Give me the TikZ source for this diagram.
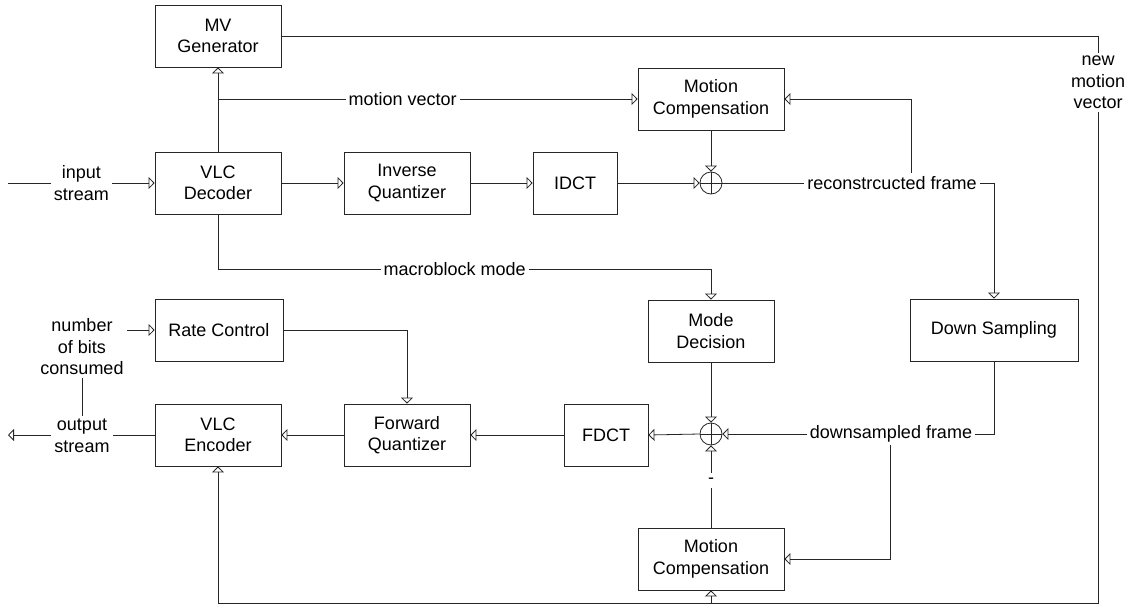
\documentclass[tikz,border=0pt]{standalone}
\usepackage{fontspec}
\setmainfont{Liberation Sans}
\usetikzlibrary{arrows.meta}
\newcommand\dfont{\fontsize{18}{21.5}\selectfont}
\begin{document}
\begin{tikzpicture}[x=1pt,y=-1pt,
  blk/.style={draw=black!85, line width=0.8pt, fill=white, minimum height=62pt, inner sep=0pt, align=center, font=\dfont},
  lbl/.style={fill=white, inner sep=3pt, align=center, font=\dfont},
  wire/.style={line width=0.8pt, draw=black!85},
  arr/.style={wire, -{Triangle[open,length=6pt,width=12pt]}},
  sumc/.style={draw=black!85, circle, minimum size=22pt, inner sep=0pt, line width=0.8pt}
]
\useasboundingbox (0,0) rectangle (1132,608);

% blocks
\node[blk, minimum width=126pt] (mvg) at (218,36) {MV\\Generator};
\node[blk, minimum width=126pt] (vd) at (218,183) {VLC\\Decoder};
\node[blk, minimum width=126pt] (iq) at (407,183) {Inverse\\Quantizer};
\node[blk, minimum width=84pt] (idct) at (575,183) {IDCT};
\node[blk, minimum width=146pt] (mc1) at (711,99) {Motion\\Compensation};
\node[sumc] (s1) at (711,183) {};
\node[blk, minimum width=126pt] (md) at (711,331) {Mode\\Decision};
\node[blk, minimum width=168pt] (ds) at (994,330) {Down Sampling};
\node[blk, minimum width=128pt] (rc) at (219,330) {Rate Control};
\node[blk, minimum width=126pt] (ve) at (218,435) {VLC\\Encoder};
\node[blk, minimum width=126pt] (fq) at (407,435) {Forward\\Quantizer};
\node[blk, minimum width=84pt] (fdct) at (606,435) {FDCT};
\node[sumc] (s2) at (711,434) {};
\node[blk, minimum width=146pt] (mc2) at (711,559) {Motion\\Compensation};

% adder crosses
\draw[wire] (s1.north) -- (s1.south) (s1.west) -- (s1.east);
\draw[wire] (s2.north) -- (s2.south) (s2.west) -- (s2.east);

% coordinates
\coordinate (in) at (8,183);
\coordinate (out) at (8,435);
\coordinate (mvj) at (218,99);
\coordinate (mbj) at (218,269);
\coordinate (mbe) at (711,269);
\coordinate (rcj) at (911,183);
\coordinate (rcc) at (994,183);
\coordinate (dsc) at (994,434);
\coordinate (dsj) at (890,434);
\coordinate (dsm) at (890,559);
\coordinate (rq) at (407,330);
\coordinate (bj) at (82,435);
\coordinate (bc) at (82,330);
\coordinate (nm1) at (1098,36);
\coordinate (nm2) at (1098,603);
\coordinate (bm) at (711,603);
\coordinate (bl) at (218,603);

% top path
\draw[arr] (in) -- node[lbl]{input\\stream} (vd.west);
\draw[arr] (vd) -- (iq);
\draw[arr] (iq) -- (idct);
\draw[arr] (idct.east) -- (s1.west);
\draw[arr] (vd.north) -- (mvg.south);
\draw[arr] (mvj) -- node[lbl, pos=0.44]{motion vector} (mc1.west);
\draw[arr] (mc1.south) -- (s1.north);
\draw[arr] (s1.east) -- (rcc) -- (ds.north);
\draw[arr] (rcj) |- (mc1.east);
\node[lbl] at (892,183) {reconstrcucted frame};

% macroblock mode
\draw[arr] (vd.south) -- (mbj) -- node[lbl, pos=0.48]{macroblock mode} (mbe) -- (md.north);
\draw[arr] (md.south) -- (s2.north);

% lower path
\draw[arr] (ds.south) -- (dsc) -- (s2.east);
\draw[arr] (dsj) -- (dsm) -- (mc2.east);
\node[lbl] at (891,434) {downsampled frame};
\draw[arr] (mc2.north) -- node[lbl, pos=0.57, inner sep=5pt]{-} (s2.south);
\draw[arr] (s2.west) -- (fdct.east);
\draw[arr] (fdct) -- (fq);
\draw[arr] (fq) -- (ve);
\draw[arr] (ve.west) -- (out);
\draw[arr] (rc.east) -- (rq) -- (fq.north);
\draw[arr] (bj) -- (bc) -- (rc.west);
\node[lbl] at (82,347) {number\\of bits\\consumed};
\node[lbl] at (82,436) {output\\stream};

% new motion vector feedback
\draw[wire] (mvg.east) -- (nm1) -- node[lbl, pos=0.082]{new\\motion\\vector} (nm2) -- (bm);
\draw[arr] (bm) -- (bl) -- (ve.south);
\draw[arr] (bm) -- (mc2.south);
\end{tikzpicture}
\end{document}
